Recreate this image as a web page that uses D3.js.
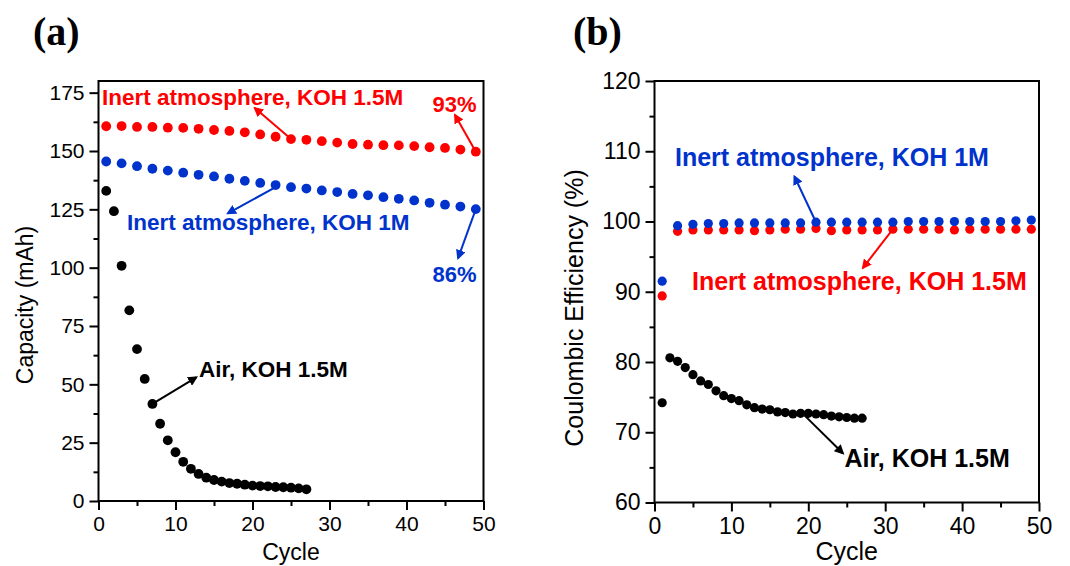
<!DOCTYPE html>
<html>
<head>
<meta charset="utf-8">
<script src="https://cdn.jsdelivr.net/npm/d3@7"></script>
<style>
  body { margin: 0; background: #fff; }
  svg text { font-family: "Liberation Sans", Arial, sans-serif; }
</style>
</head>
<body>
<div id="chart"></div>
<script>
// Cycle numbers
var cyclesAll = [1,2,3,4,5,6,7,8,9,10,11,12,13,14,15,16,17,18,19,20,21,22,23,24,25,26,27];
var cyclesOdd = [1,3,5,7,9,11,13,15,17,19,21,23,25,27,29,31,33,35,37,39,41,43,45,47,49];

// (a) Capacity (mAh)
var capInert15 = [160.6,160.7,160.3,160.3,160.0,159.9,159.5,159.0,158.6,158.0,157.1,156.1,155.1,154.8,154.2,153.6,153.0,152.7,152.5,152.4,152.1,151.6,151.3,150.6,149.7];
var capInert1 = [145.5,144.7,143.5,142.4,141.6,140.7,139.8,139.1,138.1,137.2,136.3,135.4,134.5,133.9,133.1,132.4,131.6,131.0,130.2,129.5,128.8,127.8,127.0,126.2,125.1];
var capAir = [132.9,124.2,100.8,81.7,65.1,52.3,41.6,33.1,26.0,20.9,16.8,13.8,11.6,10.0,9.0,8.3,7.7,7.4,7.0,6.6,6.4,6.3,6.0,5.9,5.7,5.4,5.0];

// (b) Coulombic efficiency (%)
var ceInert1 = [91.5,99.4,99.6,99.7,99.7,99.8,99.8,99.8,99.8,99.8,99.9,99.9,99.9,99.9,99.9,99.9,100.0,100.0,100.0,100.0,100.0,100.0,100.0,100.1,100.2];
var ceInert15 = [89.4,98.6,98.8,98.8,98.8,98.8,98.7,98.8,98.9,98.9,99.0,98.7,98.8,98.8,98.8,98.9,98.9,98.9,98.9,98.8,98.9,98.9,98.9,98.9,98.9];
var ceAir = [74.2,80.6,80.1,79.2,78.2,77.3,76.8,75.9,75.2,74.8,74.5,73.9,73.5,73.3,73.2,72.9,72.8,72.6,72.7,72.7,72.6,72.5,72.3,72.2,72.1,72.0,72.0];

// Tick labels
var xTicks = [0,10,20,30,40,50];
var capTicks = [0,25,50,75,100,125,150,175];
var ceTicks = [60,70,80,90,100,110,120];

var RED = '#ff0000', BLUE = '#0033cc', BLACK = '#000000';

var svg = d3.select('#chart').append('svg')
    .attr('width', 1070).attr('height', 566);

var defs = svg.append('defs');
[['red', RED], ['blue', BLUE], ['black', BLACK]].forEach(function(c) {
    defs.append('marker')
        .attr('id', 'head-' + c[0])
        .attr('viewBox', '0 0 10 10')
        .attr('refX', 8).attr('refY', 5)
        .attr('markerWidth', 5).attr('markerHeight', 5)
        .attr('markerUnits', 'strokeWidth')
        .attr('orient', 'auto')
        .append('path').attr('d', 'M0,0 L10,5 L0,10 Z').attr('fill', c[1]);
});

// Draw one panel: frame, ticks, labels
function panel(opt) {
    var x = d3.scaleLinear().domain([0, 50]).range([opt.left, opt.right]);
    var y = d3.scaleLinear().domain(opt.yDomain).range([opt.bottom, opt.top]);
    var g = svg.append('g');

    // x axis (major + minor ticks, pointing out)
    g.append('g').attr('transform', 'translate(0,' + opt.bottom + ')')
        .call(d3.axisBottom(x).tickValues(xTicks).tickSize(9).tickPadding(6).tickFormat(d3.format('d')));
    g.append('g').attr('transform', 'translate(0,' + opt.bottom + ')')
        .call(d3.axisBottom(x).tickValues([5,15,25,35,45]).tickSize(5).tickFormat(''));

    g.append('g').attr('transform', 'translate(' + opt.left + ',0)')
        .call(d3.axisLeft(y).tickValues(opt.yTicks).tickSize(9).tickPadding(5).tickFormat(d3.format('d')));
    g.append('g').attr('transform', 'translate(' + opt.left + ',0)')
        .call(d3.axisLeft(y).tickValues(opt.yMinor).tickSize(5).tickFormat(''));

    g.selectAll('.tick line').attr('stroke', '#000').attr('stroke-width', 2);
    g.selectAll('.domain').remove();
    g.selectAll('.tick text').attr('fill', '#000')
        .style('font-size', opt.tickFont + 'px');

    // frame
    g.append('rect')
        .attr('x', opt.left).attr('y', opt.top)
        .attr('width', opt.right - opt.left).attr('height', opt.bottom - opt.top)
        .attr('fill', 'none').attr('stroke', '#000').attr('stroke-width', 2);

    // axis titles
    g.append('text')
        .attr('x', (opt.left + opt.right) / 2).attr('y', 560)
        .attr('text-anchor', 'middle')
        .style('font-size', opt.titleFont + 'px')
        .text('Cycle');
    g.append('text')
        .attr('transform', 'translate(' + opt.yTitleX + ',' + opt.yTitleY + ') rotate(-90)')
        .attr('text-anchor', 'middle')
        .style('font-size', opt.titleFont + 'px')
        .text(opt.yTitle);

    // panel letter
    svg.append('text')
        .attr('x', opt.letterX).attr('y', 45)
        .style('font-family', '"Liberation Serif", "Times New Roman", serif')
        .style('font-weight', 'bold')
        .style('font-size', '40px')
        .text(opt.letter);

    return { x: x, y: y, g: g };
}

function dots(p, xs, ys, colour, r) {
    p.g.append('g').selectAll('circle')
        .data(ys)
        .enter().append('circle')
        .attr('cx', function(d, i) { return p.x(xs[i]); })
        .attr('cy', function(d) { return p.y(d); })
        .attr('r', r)
        .attr('fill', colour);
}

function arrow(p, x1, y1, x2, y2, colour, name) {
    p.g.append('line')
        .attr('x1', p.x(x1)).attr('y1', p.y(y1))
        .attr('x2', p.x(x2)).attr('y2', p.y(y2))
        .attr('stroke', colour).attr('stroke-width', 2)
        .attr('marker-end', 'url(#head-' + name + ')');
}

function label(p, x, y, txt, colour, size, anchor) {
    p.g.append('text')
        .attr('x', p.x(x)).attr('y', p.y(y))
        .attr('text-anchor', anchor || 'start')
        .attr('fill', colour)
        .style('font-weight', 'bold')
        .style('font-size', size + 'px')
        .text(txt);
}

// Panel (a)
var pa = panel({
    left: 98.5, right: 483.5, top: 81, bottom: 501,
    yDomain: [0, 180], yTicks: capTicks, yMinor: [12.5,37.5,62.5,87.5,112.5,137.5,162.5],
    tickFont: 21, titleFont: 23, yTitle: 'Capacity (mAh)', yTitleX: 33, yTitleY: 305,
    letter: '(a)', letterX: 33
});
dots(pa, cyclesOdd, capInert15, RED, 4.9);
dots(pa, cyclesOdd, capInert1, BLUE, 4.9);
dots(pa, cyclesAll, capAir, BLACK, 4.9);

arrow(pa, 25, 155.1, 20.3, 168.4, RED, 'red');
arrow(pa, 49, 149.7, 46.3, 165.4, RED, 'red');
arrow(pa, 23, 134.5, 16.8, 123.3, BLUE, 'blue');
arrow(pa, 49, 125.1, 46.7, 104.1, BLUE, 'blue');
arrow(pa, 7, 41.6, 12.7, 53, BLACK, 'black');

label(pa, 0.45, 169.7, 'Inert atmosphere, KOH 1.5M', RED, 22.5);
label(pa, 49.1, 166.7, '93%', RED, 22, 'end');
label(pa, 3.7, 116.1, 'Inert atmosphere, KOH 1M', BLUE, 22.5);
label(pa, 49.1, 93.9, '86%', BLUE, 22, 'end');
label(pa, 13.05, 53.3, 'Air, KOH 1.5M', BLACK, 22.5);

// Panel (b)
var pb = panel({
    left: 654.5, right: 1039, top: 81, bottom: 502.5,
    yDomain: [60, 120], yTicks: ceTicks, yMinor: [65,75,85,95,105,115],
    tickFont: 23, titleFont: 25, yTitle: 'Coulombic Efficiency (%)', yTitleX: 583, yTitleY: 308,
    letter: '(b)', letterX: 573
});
dots(pb, cyclesOdd, ceInert15, RED, 4.6);
dots(pb, cyclesOdd, ceInert1, BLUE, 4.6);
dots(pb, cyclesAll, ceAir, BLACK, 4.6);

arrow(pb, 21, 99.9, 18.2, 106.4, BLUE, 'blue');
arrow(pb, 31, 98.9, 27.1, 93.4, RED, 'red');
arrow(pb, 19.5, 72.4, 24.5, 67, BLACK, 'black');

label(pb, 2.66, 107.9, 'Inert atmosphere, KOH 1M', BLUE, 25);
label(pb, 4.87, 90.25, 'Inert atmosphere, KOH 1.5M', RED, 25);
label(pb, 24.7, 65.1, 'Air, KOH 1.5M', BLACK, 25);
</script>
</body>
</html>
